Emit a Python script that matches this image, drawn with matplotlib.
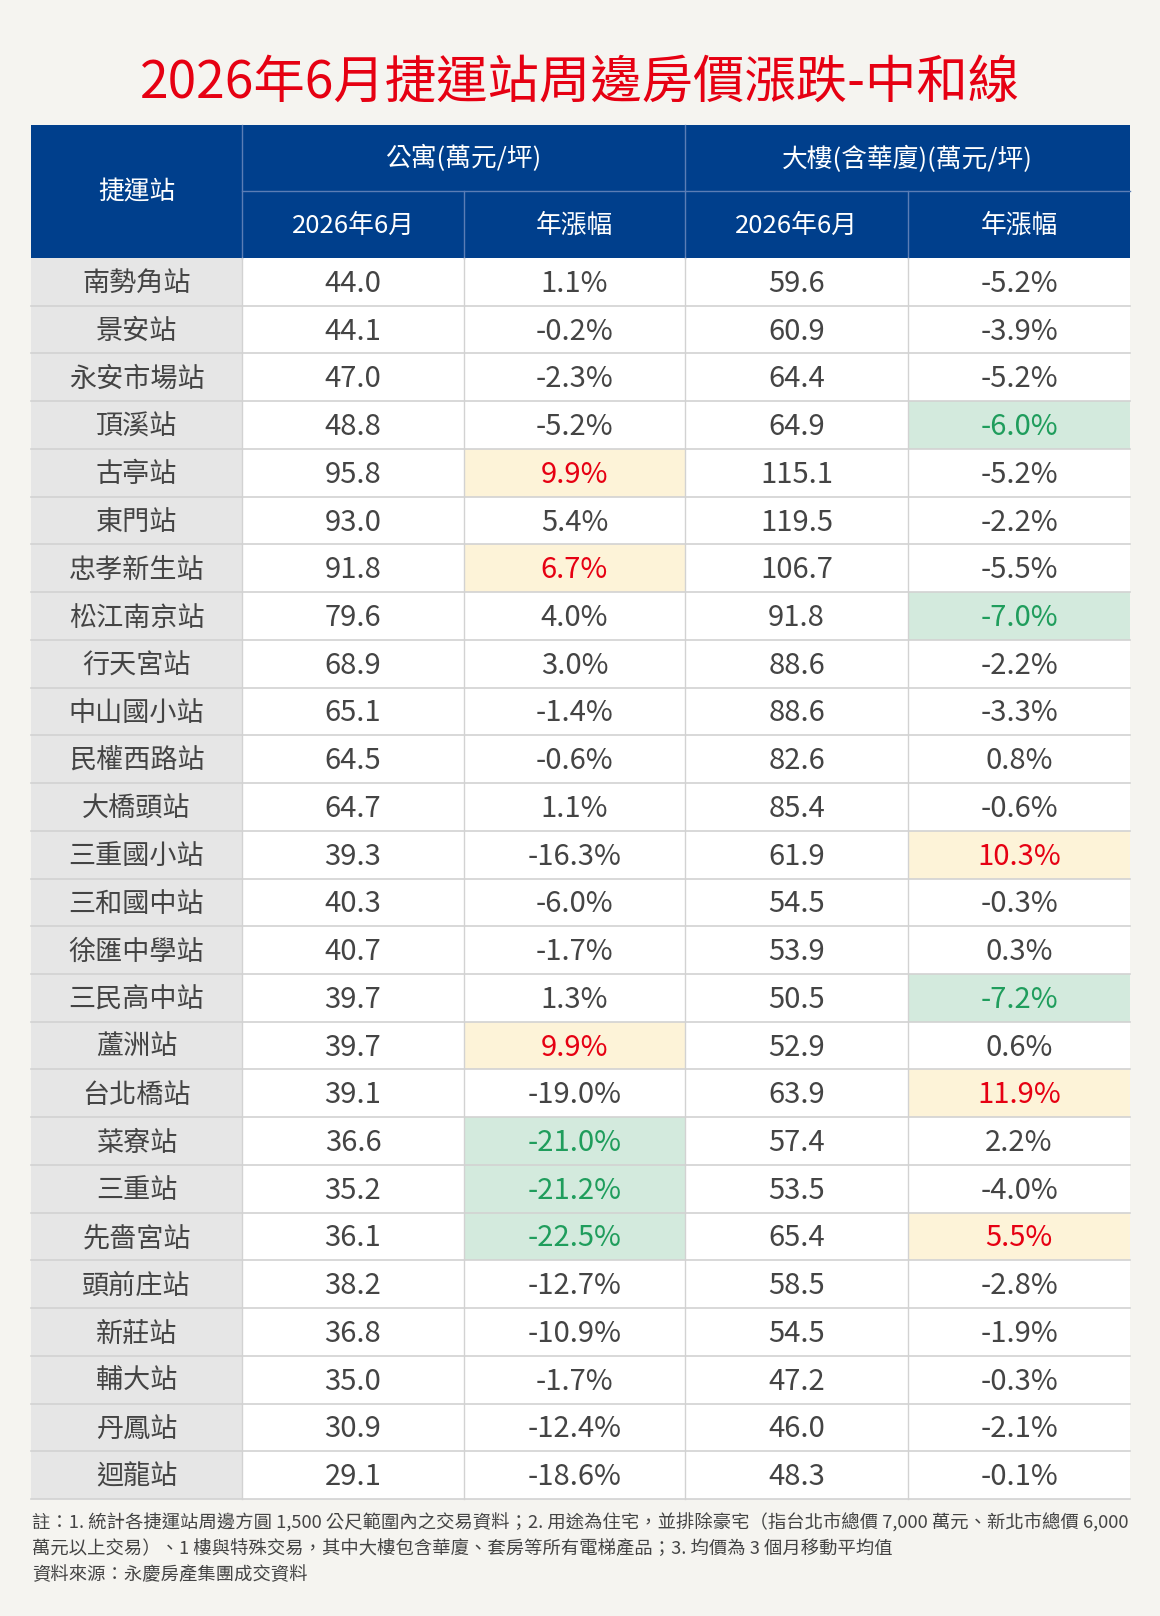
import matplotlib
matplotlib.use("Agg")
import matplotlib.pyplot as plt
from matplotlib.patches import Rectangle
import numpy as np

plt.rcParams['font.family'] = ['Noto Sans CJK TC', 'DejaVu Sans']

title = "2026年6月捷運站周邊房價漲跌-中和線"
group_headers = ["公寓(萬元/坪)", "大樓(含華廈)(萬元/坪)"]
sub_headers = ["2026年6月", "年漲幅", "2026年6月", "年漲幅"]
first_header = "捷運站"

stations = ["南勢角站", "景安站", "永安市場站", "頂溪站", "古亭站", "東門站", "忠孝新生站",
            "松江南京站", "行天宮站", "中山國小站", "民權西路站", "大橋頭站", "三重國小站",
            "三和國中站", "徐匯中學站", "三民高中站", "蘆洲站", "台北橋站", "菜寮站", "三重站",
            "先嗇宮站", "頭前庄站", "新莊站", "輔大站", "丹鳳站", "迴龍站"]
apt_price = [44.0, 44.1, 47.0, 48.8, 95.8, 93.0, 91.8, 79.6, 68.9, 65.1, 64.5, 64.7, 39.3,
             40.3, 40.7, 39.7, 39.7, 39.1, 36.6, 35.2, 36.1, 38.2, 36.8, 35.0, 30.9, 29.1]
apt_yoy = [1.1, -0.2, -2.3, -5.2, 9.9, 5.4, 6.7, 4.0, 3.0, -1.4, -0.6, 1.1, -16.3,
           -6.0, -1.7, 1.3, 9.9, -19.0, -21.0, -21.2, -22.5, -12.7, -10.9, -1.7, -12.4, -18.6]
bld_price = [59.6, 60.9, 64.4, 64.9, 115.1, 119.5, 106.7, 91.8, 88.6, 88.6, 82.6, 85.4, 61.9,
             54.5, 53.9, 50.5, 52.9, 63.9, 57.4, 53.5, 65.4, 58.5, 54.5, 47.2, 46.0, 48.3]
bld_yoy = [-5.2, -3.9, -5.2, -6.0, -5.2, -2.2, -5.5, -7.0, -2.2, -3.3, 0.8, -0.6, 10.3,
           -0.3, 0.3, -7.2, 0.6, 11.9, 2.2, -4.0, 5.5, -2.8, -1.9, -0.3, -2.1, -0.1]

notes = [
    "註：1. 統計各捷運站周邊方圓 1,500 公尺範圍內之交易資料；2. 用途為住宅，並排除豪宅（指台北市總價 7,000 萬元、新北市總價 6,000",
    "萬元以上交易）、1 樓與特殊交易，其中大樓包含華廈、套房等所有電梯產品；3. 均價為 3 個月移動平均值",
    "資料來源：永慶房產集團成交資料",
]

BG = "#f5f4f0"
HEAD = "#003f8c"
HEAD_LINE = "#5b7db5"
STATION_BG = "#e6e6e6"
GRID = "#d2d2d2"
TXT = "#444444"
RED = "#e60012"
GREEN = "#1f9d5c"
YEL_BG = "#fdf3d8"
GRN_BG = "#d3eadd"

W, H = 1160, 1616
fig = plt.figure(figsize=(W / 100, H / 100), dpi=100, facecolor=BG)
ax = fig.add_axes([0, 0, 1, 1])
ax.set_xlim(0, W)
ax.set_ylim(H, 0)
ax.axis("off")
ax.set_facecolor(BG)

# layout
col_x = [31, 242, 464, 685, 908, 1130]
h1_top, h1_bot, h2_bot = 125, 191, 258
table_bot = 1499
n = len(stations)
rh = (table_bot - h2_bot) / n

# title
ax.text(W / 2, 83, title, ha="center", va="center", color=RED, fontsize=37,
        fontweight="medium")

# header background
ax.add_patch(Rectangle((col_x[0], h1_top), col_x[-1] - col_x[0], h2_bot - h1_top,
                       facecolor=HEAD, edgecolor="none"))
ax.plot([col_x[1], col_x[-1]], [h1_bot, h1_bot], color=HEAD_LINE, lw=1)
ax.plot([col_x[1], col_x[1]], [h1_top, h2_bot], color=HEAD_LINE, lw=1)
ax.plot([col_x[3], col_x[3]], [h1_top, h2_bot], color=HEAD_LINE, lw=1)
for cx in (col_x[2], col_x[4]):
    ax.plot([cx, cx], [h1_bot, h2_bot], color=HEAD_LINE, lw=1)

hfs = 18.5
ax.text((col_x[0] + col_x[1]) / 2, (h1_top + h2_bot) / 2 + 1, first_header, ha="center",
        va="center", color="white", fontsize=hfs)
for g, label in enumerate(group_headers):
    ax.text((col_x[1 + 2 * g] + col_x[3 + 2 * g]) / 2, (h1_top + h1_bot) / 2 + 1, label,
            ha="center", va="center", color="white", fontsize=hfs)
for j, label in enumerate(sub_headers):
    ax.text((col_x[1 + j] + col_x[2 + j]) / 2, (h1_bot + h2_bot) / 2 + 1, label,
            ha="center", va="center", color="white", fontsize=hfs)

# highlights: top 3 and bottom 3 of each yoy column
def marks(vals):
    order = np.argsort(vals)
    return set(order[-3:].tolist()), set(order[:3].tolist())

apt_hi, apt_lo = marks(np.array(apt_yoy))
bld_hi, bld_lo = marks(np.array(bld_yoy))

cols = [
    ([f"{v:.1f}" for v in apt_price], set(), set()),
    ([f"{v:.1f}%" for v in apt_yoy], apt_hi, apt_lo),
    ([f"{v:.1f}" for v in bld_price], set(), set()),
    ([f"{v:.1f}%" for v in bld_yoy], bld_hi, bld_lo),
]

# station column background
ax.add_patch(Rectangle((col_x[0], h2_bot), col_x[1] - col_x[0], table_bot - h2_bot,
                       facecolor=STATION_BG, edgecolor="none"))
ax.add_patch(Rectangle((col_x[1], h2_bot), col_x[-1] - col_x[1], table_bot - h2_bot,
                       facecolor="white", edgecolor="none"))

sfs = 19.5
dfs = 21
for i in range(n):
    y0 = h2_bot + i * rh
    yc = y0 + rh / 2 + 2
    ax.text((col_x[0] + col_x[1]) / 2, yc, stations[i], ha="center", va="center",
            color=TXT, fontsize=sfs)
    for j, (labels, hi, lo) in enumerate(cols):
        x0, x1 = col_x[1 + j], col_x[2 + j]
        color = TXT
        if i in hi:
            ax.add_patch(Rectangle((x0, y0), x1 - x0, rh, facecolor=YEL_BG, edgecolor="none"))
            color = RED
        elif i in lo:
            ax.add_patch(Rectangle((x0, y0), x1 - x0, rh, facecolor=GRN_BG, edgecolor="none"))
            color = GREEN
        ax.text((x0 + x1) / 2, yc, labels[i], ha="center", va="center", color=color,
                fontsize=dfs, fontweight="light")

# grid lines
for i in range(1, n + 1):
    y = h2_bot + i * rh
    ax.plot([col_x[0], col_x[-1]], [y, y], color=GRID, lw=1.2)
for cx in col_x[1:-1]:
    ax.plot([cx, cx], [h2_bot, table_bot], color=GRID, lw=1)

# notes
for k, line in enumerate(notes):
    ax.text(32, 1523 + k * 26.3, line, ha="left", va="center", color=TXT, fontsize=13.2)

fig.savefig("out.png", dpi=100, facecolor=BG)
